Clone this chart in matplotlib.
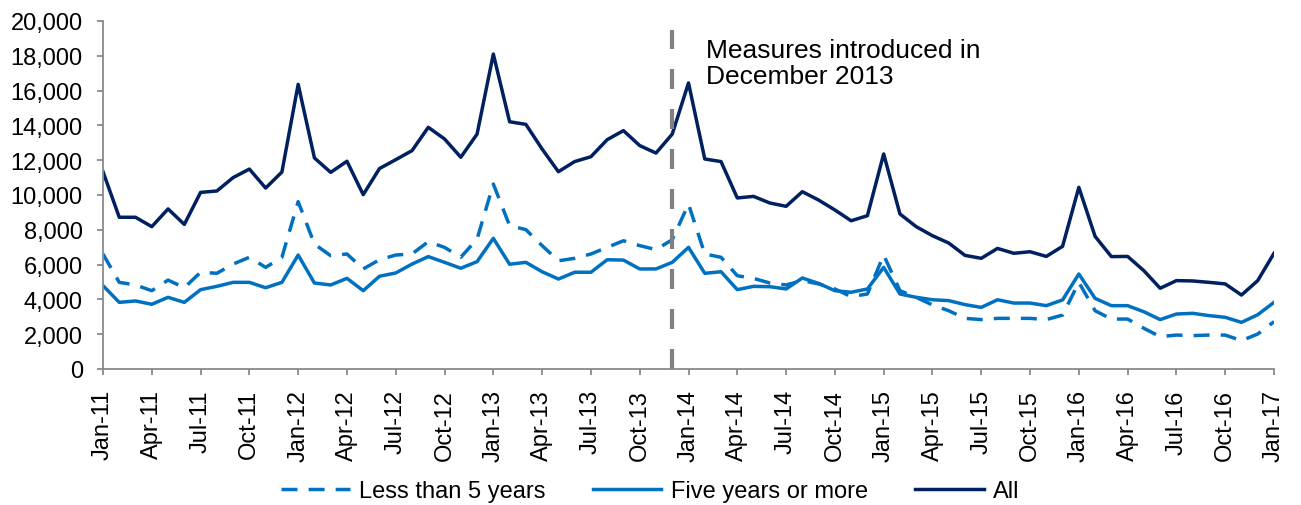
import matplotlib
matplotlib.use("Agg")
import matplotlib.pyplot as plt
import numpy as np

plt.rcParams['font.family'] = ['Liberation Sans', 'DejaVu Sans']

# ---- data (monthly, Jan-11 .. Jan-17) ----
less_than_5 = [6610, 4980, 4830, 4500, 5110, 4670, 5560, 5500, 6030, 6420, 5840, 6420,
               9620, 7180, 6510, 6610, 5750, 6280, 6550, 6610, 7320, 6990, 6420, 7470,
               10630, 8240, 8010, 7090, 6220, 6360, 6610, 6990, 7370, 7090, 6860, 7430,
               9480, 6610, 6420, 5360, 5210, 4940, 4830, 5080, 4890, 4600, 4160, 4310,
               6550, 4500, 4120, 3680, 3350, 2910, 2840, 2910, 2910, 2910, 2840, 3100,
               4980, 3350, 2870, 2870, 2340, 1860, 1950, 1920, 1950, 1950, 1630, 2010,
               2720]
five_or_more = [4790, 3830, 3910, 3720, 4120, 3830, 4560, 4750, 4980, 4980, 4670, 4980,
                6550, 4940, 4830, 5210, 4500, 5330, 5520, 6030, 6460, 6130, 5790, 6170,
                7510, 6020, 6130, 5590, 5170, 5560, 5560, 6280, 6260, 5750, 5750, 6130,
                6990, 5500, 5590, 4560, 4750, 4730, 4600, 5230, 4920, 4500, 4410, 4600,
                5840, 4310, 4120, 3980, 3930, 3700, 3540, 3980, 3790, 3790, 3640, 3970,
                5460, 4060, 3640, 3640, 3290, 2840, 3160, 3200, 3070, 2970, 2680, 3120,
                3830]
all_series = [11340, 8720, 8720, 8180, 9200, 8310, 10150, 10230, 11000, 11490, 10400, 11320,
              16360, 12130, 11300, 11940, 10020, 11520, 12030, 12550, 13890, 13220, 12170, 13500,
              18100, 14210, 14060, 12640, 11340, 11920, 12200, 13180, 13700, 12840, 12410, 13500,
              16440, 12070, 11920, 9830, 9920, 9540, 9350, 10190, 9710, 9140, 8520, 8810,
              12360, 8910, 8180, 7660, 7240, 6530, 6360, 6930, 6650, 6740, 6470, 7050,
              10440, 7620, 6460, 6470, 5650, 4640, 5080, 5060, 4980, 4890, 4250, 5080,
              6650]
tick_labels = ["Jan-11", "Apr-11", "Jul-11", "Oct-11", "Jan-12", "Apr-12", "Jul-12", "Oct-12",
               "Jan-13", "Apr-13", "Jul-13", "Oct-13", "Jan-14", "Apr-14", "Jul-14", "Oct-14",
               "Jan-15", "Apr-15", "Jul-15", "Oct-15", "Jan-16", "Apr-16", "Jul-16", "Oct-16",
               "Jan-17"]
event_month_index = 35  # Dec-13
annotation = "Measures introduced in\nDecember 2013"

navy = "#002060"
blue = "#0070C0"
axis_grey = "#898989"

fig = plt.figure(figsize=(13.01, 5.06), dpi=100)
ax = fig.add_axes([103/1301, 1-370/506, (1274-103)/1301, (370-22)/506])

x = np.arange(len(all_series))
ax.plot(x, less_than_5, color=blue, lw=2.5, linestyle=(0, (4.6, 3.2)), label="Less than 5 years")
ax.plot(x, five_or_more, color=blue, lw=2.5, label="Five years or more")
ax.plot(x, all_series, color=navy, lw=2.5, label="All")

ax.axvline(event_month_index, ymin=0, ymax=(20000-500)/20000, color="#808080", lw=3.0,
           linestyle=(0, (4.8, 4.8)), zorder=5)
ax.text(0.515, 0.951, annotation, transform=ax.transAxes, ha='left', va='top',
        fontsize=19, linespacing=1.08, color='black')

ax.set_xlim(0, len(all_series)-1)
ax.set_ylim(0, 20000)
ax.set_xticks(np.arange(0, len(all_series), 3))
ax.set_xticklabels(tick_labels, rotation=90, fontsize=17)
ax.set_yticks(np.arange(0, 20001, 2000))
ax.set_yticklabels([f"{v:,}" for v in range(0, 20001, 2000)], fontsize=17)

for s in ['top', 'right']:
    ax.spines[s].set_visible(False)
for s in ['left', 'bottom']:
    ax.spines[s].set_color(axis_grey)
    ax.spines[s].set_linewidth(1.3)
ax.tick_params(axis='y', length=4.5, width=1.3, color=axis_grey, pad=10)
ax.tick_params(axis='x', length=4.5, width=1.3, color=axis_grey, pad=10)

fig.legend(loc='center', bbox_to_anchor=(0.5, 0.027), ncol=3, frameon=False, fontsize=17,
           handlelength=2.9, handletextpad=0.4, columnspacing=2.0)

fig.savefig("out.png", dpi=100)
